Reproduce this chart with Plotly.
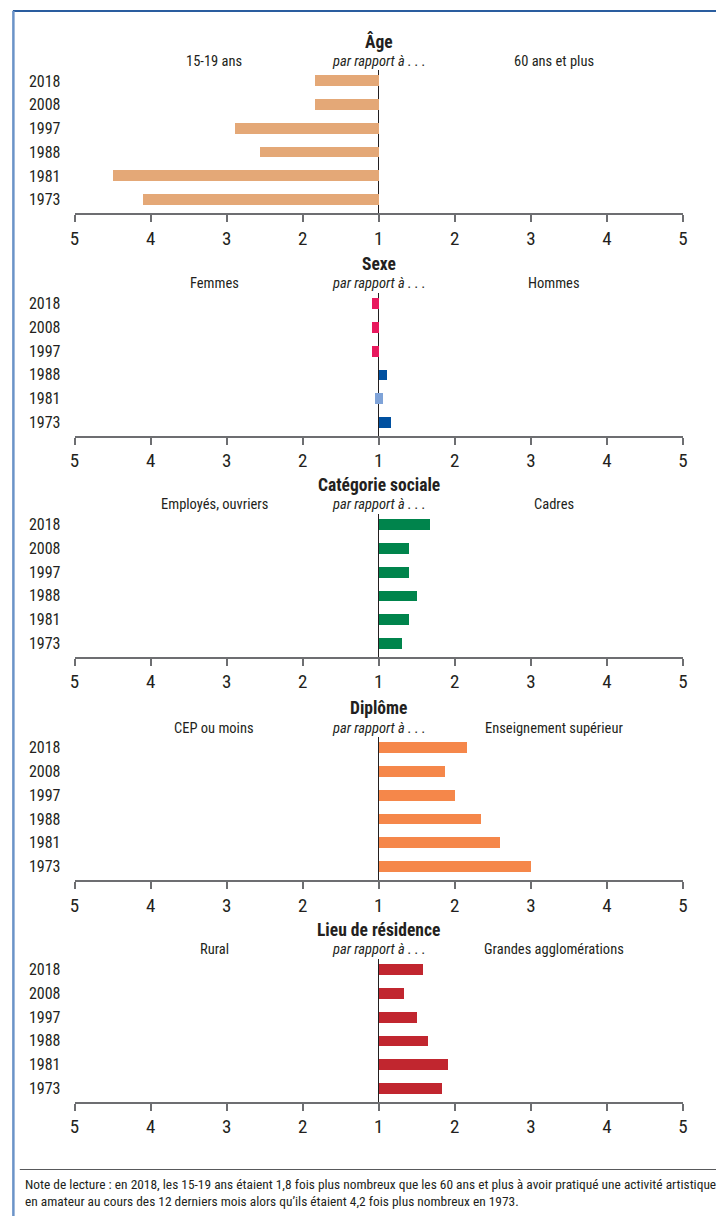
import plotly.graph_objects as go

# ---------------- data ----------------
years = ["1973", "1981", "1988", "1997", "2008", "2018"]

age_values = [4.11, 4.50, 2.57, 2.90, 1.84, 1.84]          # 15-19 ans vs 60 ans et plus (left side)
sexe_values = [1.16, 1.05, 1.10, 1.10, 1.10, 1.10]
sexe_side = ["H", "=", "H", "F", "F", "F"]                  # F = Femmes (left), H = Hommes (right), = equal
categorie_values = [1.30, 1.39, 1.50, 1.39, 1.39, 1.67]     # Cadres (right)
diplome_values = [3.00, 2.59, 2.34, 2.00, 1.87, 2.15]       # Enseignement supérieur (right)
lieu_values = [1.83, 1.91, 1.64, 1.50, 1.33, 1.58]          # Grandes agglomérations (right)

panel_titles = ["Âge", "Sexe", "Catégorie sociale", "Diplôme", "Lieu de résidence"]
left_labels = ["15-19 ans", "Femmes", "Employés, ouvriers", "CEP ou moins", "Rural"]
right_labels = ["60 ans et plus", "Hommes", "Cadres", "Enseignement supérieur", "Grandes agglomérations"]
middle_label = "par rapport à . . ."

x_tickvals = [-4, -3, -2, -1, 0, 1, 2, 3, 4]
x_ticktext = ["5", "4", "3", "2", "1", "2", "3", "4", "5"]

note = ("Note de lecture : en 2018, les 15-19 ans étaient 1,8 fois plus nombreux que les 60 ans et plus à avoir "
        "pratiqué une activité artistique<br>en amateur au cours des 12 derniers mois alors qu’ils étaient 4,2 fois "
        "plus nombreux en 1973.")

# ---------------- style ----------------
W, H = 721, 1216
FONT = "Roboto Condensed, Liberation Sans Narrow, DejaVu Sans Condensed, Roboto, sans-serif"
TEXT = "#231f20"
C_AGE = "#E4A877"
C_F = "#E8195E"
C_H = "#0050A0"
C_EQ = "#7FA3D8"
C_CAT = "#00844C"
C_DIP = "#F5874A"
C_LIEU = "#C1262F"

axis_px = [213.3, 435.7, 656.7, 880.0, 1101.7]   # pixel y of each bottom axis line
panel_h = 143.0
x_left_px, x_right_px = 70.5, 687.5
YR = [-0.57, 5.45]


def py(p):
    return 1 - p / H


def px(p):
    return p / W


fig = go.Figure()

panels = []
panels.append(dict(x=[-(v - 1) for v in age_values], base=None, colors=[C_AGE] * 6))
sx, sb, sc = [], [], []
for v, s in zip(sexe_values, sexe_side):
    if s == "F":
        sx.append(-(v - 1)); sb.append(0); sc.append(C_F)
    elif s == "H":
        sx.append(v - 1); sb.append(0); sc.append(C_H)
    else:
        sx.append(2 * (v - 1)); sb.append(-(v - 1)); sc.append(C_EQ)
panels.append(dict(x=sx, base=sb, colors=sc))
panels.append(dict(x=[v - 1 for v in categorie_values], base=None, colors=[C_CAT] * 6))
panels.append(dict(x=[v - 1 for v in diplome_values], base=None, colors=[C_DIP] * 6))
panels.append(dict(x=[v - 1 for v in lieu_values], base=None, colors=[C_LIEU] * 6))

SUB = 14.5
annotations = []
for i, p in enumerate(panels):
    n = "" if i == 0 else str(i + 1)
    xa, ya = "x" + n, "y" + n
    fig.add_trace(go.Bar(
        x=p["x"], y=years, base=p["base"], orientation="h",
        marker=dict(color=p["colors"], line=dict(width=0)),
        width=0.45, xaxis=xa, yaxis=ya, showlegend=False, hoverinfo="skip",
    ))
    bottom = axis_px[i]
    top = bottom - panel_h
    fig.layout["xaxis" + n] = dict(
        domain=[px(x_left_px), px(x_right_px)], anchor=ya, range=[-4, 4],
        tickvals=x_tickvals, ticktext=x_ticktext, ticks="outside", ticklen=7,
        tickwidth=1.5, tickcolor="#6d6e71", showline=True, linecolor="#6d6e71",
        linewidth=1.8, showgrid=False, zeroline=True, zerolinecolor=TEXT,
        zerolinewidth=1, tickfont=dict(family=FONT, size=19, color=TEXT), fixedrange=True,
    )
    fig.layout["yaxis" + n] = dict(
        domain=[py(bottom), py(top)], anchor=xa, type="category", range=YR,
        showline=False, showgrid=False, zeroline=False, ticks="",
        ticklabelstandoff=13, tickfont=dict(family=FONT, size=16, color=TEXT), fixedrange=True,
    )
    annotations.append(dict(text="<b>" + panel_titles[i] + "</b>", x=px(379), y=py(bottom - 172),
                            xref="paper", yref="paper", showarrow=False,
                            font=dict(family=FONT, size=17.5, color=TEXT), xanchor="center", yanchor="middle"))
    annotations.append(dict(text=left_labels[i], x=px(212), y=py(bottom - 152), xref="paper", yref="paper",
                            showarrow=False, font=dict(family=FONT, size=SUB, color=TEXT),
                            xanchor="center", yanchor="middle"))
    annotations.append(dict(text="<i>" + middle_label + "</i>", x=px(379), y=py(bottom - 152),
                            xref="paper", yref="paper", showarrow=False,
                            font=dict(family=FONT, size=SUB, color=TEXT), xanchor="center", yanchor="middle"))
    annotations.append(dict(text=right_labels[i], x=px(557), y=py(bottom - 152), xref="paper", yref="paper",
                            showarrow=False, font=dict(family=FONT, size=SUB, color=TEXT),
                            xanchor="center", yanchor="middle"))

annotations.append(dict(text=note, x=px(18), y=py(1175), xref="paper", yref="paper", showarrow=False,
                        align="left", xanchor="left", yanchor="top",
                        font=dict(family=FONT, size=13.4, color=TEXT)))

shapes = [
    dict(type="line", xref="paper", yref="paper", x0=px(8), x1=1, y0=py(11), y1=py(11),
         line=dict(color="#2a5d9f", width=2)),
    dict(type="line", xref="paper", yref="paper", x0=px(8.5), x1=px(8.5), y0=py(11), y1=0,
         line=dict(color="#6b93c8", width=2.5)),
    dict(type="line", xref="paper", yref="paper", x0=px(15), x1=1, y0=py(1169.5), y1=py(1169.5),
         line=dict(color="#58595b", width=1)),
]

fig.update_layout(
    width=W, height=H, margin=dict(l=0, r=0, t=0, b=0),
    paper_bgcolor="white", plot_bgcolor="white",
    annotations=annotations, shapes=shapes, bargap=0,
    font=dict(family=FONT, color=TEXT),
)

fig.write_html(
    "out.html",
    config={"displayModeBar": False, "responsive": False},
    post_script=("document.documentElement.style.overflow='hidden';"
                 "document.body.style.margin='0';document.body.style.overflow='hidden';"),
)
